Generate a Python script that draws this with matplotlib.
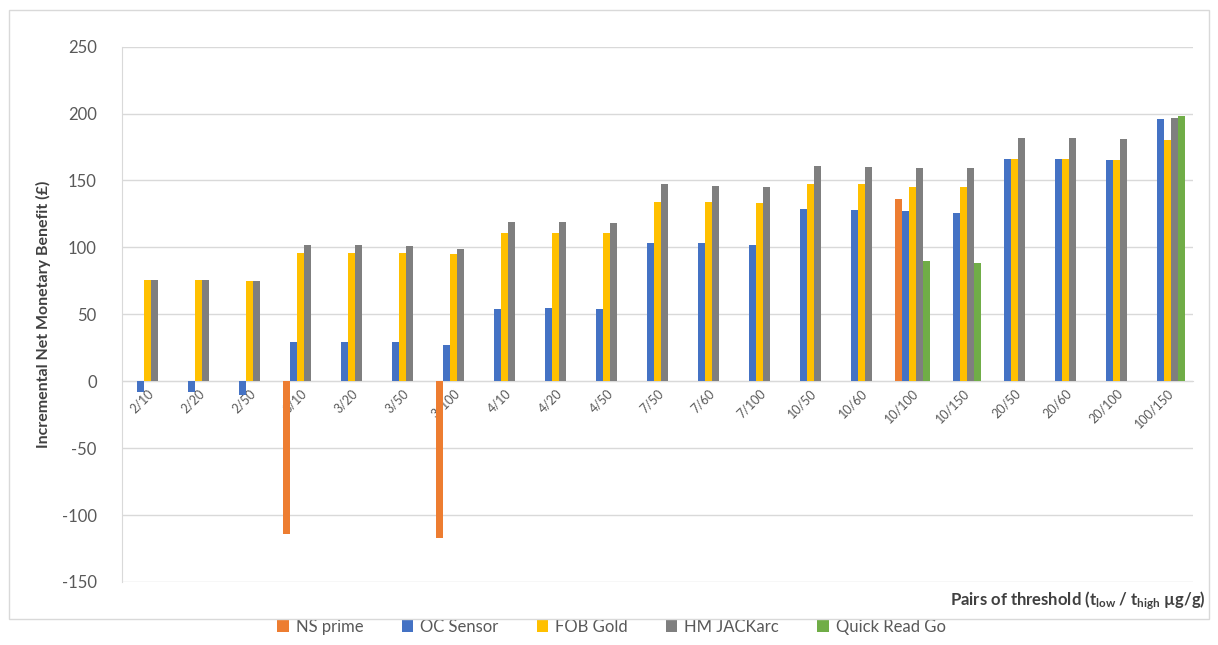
import matplotlib.pyplot as plt
import numpy as np
from matplotlib.patches import Rectangle

plt.rcParams['font.family'] = ['Lato', 'DejaVu Sans']
plt.rcParams['mathtext.default'] = 'regular'
plt.rcParams['axes.unicode_minus'] = False

pairs = ['2/10', '2/20', '2/50', '3/10', '3/20', '3/50', '3/100', '4/10', '4/20', '4/50',
         '7/50', '7/60', '7/100', '10/50', '10/60', '10/100', '10/150', '20/50', '20/60',
         '20/100', '100/150']
nan = np.nan
ns_prime = [nan, nan, nan, -114, nan, nan, -117, nan, nan, nan,
            nan, nan, nan, nan, nan, 136, nan, nan, nan, nan, nan]
oc_sensor = [-8, -8, -10, 29, 29, 29, 27, 54, 55, 54,
             103, 103, 102, 129, 128, 127, 126, 166, 166, 165, 196]
fob_gold = [76, 76, 75, 96, 96, 96, 95, 111, 111, 111,
            134, 134, 133, 147, 147, 145, 145, 166, 166, 165, 180]
hm_jackarc = [76, 76, 75, 102, 102, 101, 99, 119, 119, 118,
              147, 146, 145, 161, 160, 159, 159, 182, 182, 181, 197]
quick_read = [nan, nan, nan, nan, nan, nan, nan, nan, nan, nan,
              nan, nan, nan, nan, nan, 90, 88, nan, nan, nan, 198]

series = [('NS prime', ns_prime, '#ED7D31'),
          ('OC Sensor', oc_sensor, '#4472C4'),
          ('FOB Gold', fob_gold, '#FFC000'),
          ('HM JACKarc', hm_jackarc, '#7F7F7F'),
          ('Quick Read Go', quick_read, '#70AD47')]

fig = plt.figure(figsize=(12.18, 6.45), dpi=100)
ax = fig.add_axes([0.1, 0.0977, 0.8795, 0.83])
fig.patches.append(Rectangle((0.007, 0.04), 0.986, 0.945, transform=fig.transFigure,
                             fill=False, edgecolor='#D9D9D9', linewidth=1))

x = np.arange(len(pairs))
w = 0.137
for k, (name, vals, col) in enumerate(series):
    ax.bar(x + (k - 2) * w, vals, w, color=col, label=name, zorder=3)

ax.set_xlim(-0.5, len(pairs) - 0.5)
ax.set_ylim(-150, 250)
ax.set_yticks(np.arange(-150, 251, 50))
ax.yaxis.grid(True, color='#D9D9D9', linewidth=1, zorder=0)
for s in ['top', 'right']:
    ax.spines[s].set_visible(False)
ax.spines['left'].set_color('#D9D9D9')
ax.spines['bottom'].set_position(('data', 0))
ax.spines['bottom'].set_color('#D9D9D9')
ax.tick_params(axis='y', length=0, labelsize=12, labelcolor='#595959', pad=18)
ax.tick_params(axis='x', length=0, pad=4)
ax.set_xticks(x)
ax.set_xticklabels(pairs, rotation=45, ha='right', rotation_mode='anchor',
                   fontsize=9, color='#595959')

ax.set_ylabel('Incremental Net Monetary Benefit (£)', fontsize=11.5, fontweight='bold',
              color='#404040', labelpad=8)
fig.text(0.99, 0.068, r'Pairs of threshold (t$_{low}$ / t$_{high}$ µg/g)', ha='right',
         va='center', fontsize=12, fontweight='bold', color='#404040')

ax.legend(loc='center', bbox_to_anchor=(0.502, 0.028), bbox_transform=fig.transFigure,
          ncol=5, frameon=False, fontsize=12, handlelength=0.7, handleheight=0.7,
          columnspacing=2.3, handletextpad=0.4, labelcolor='#595959')

fig.savefig('out.png', dpi=100)
